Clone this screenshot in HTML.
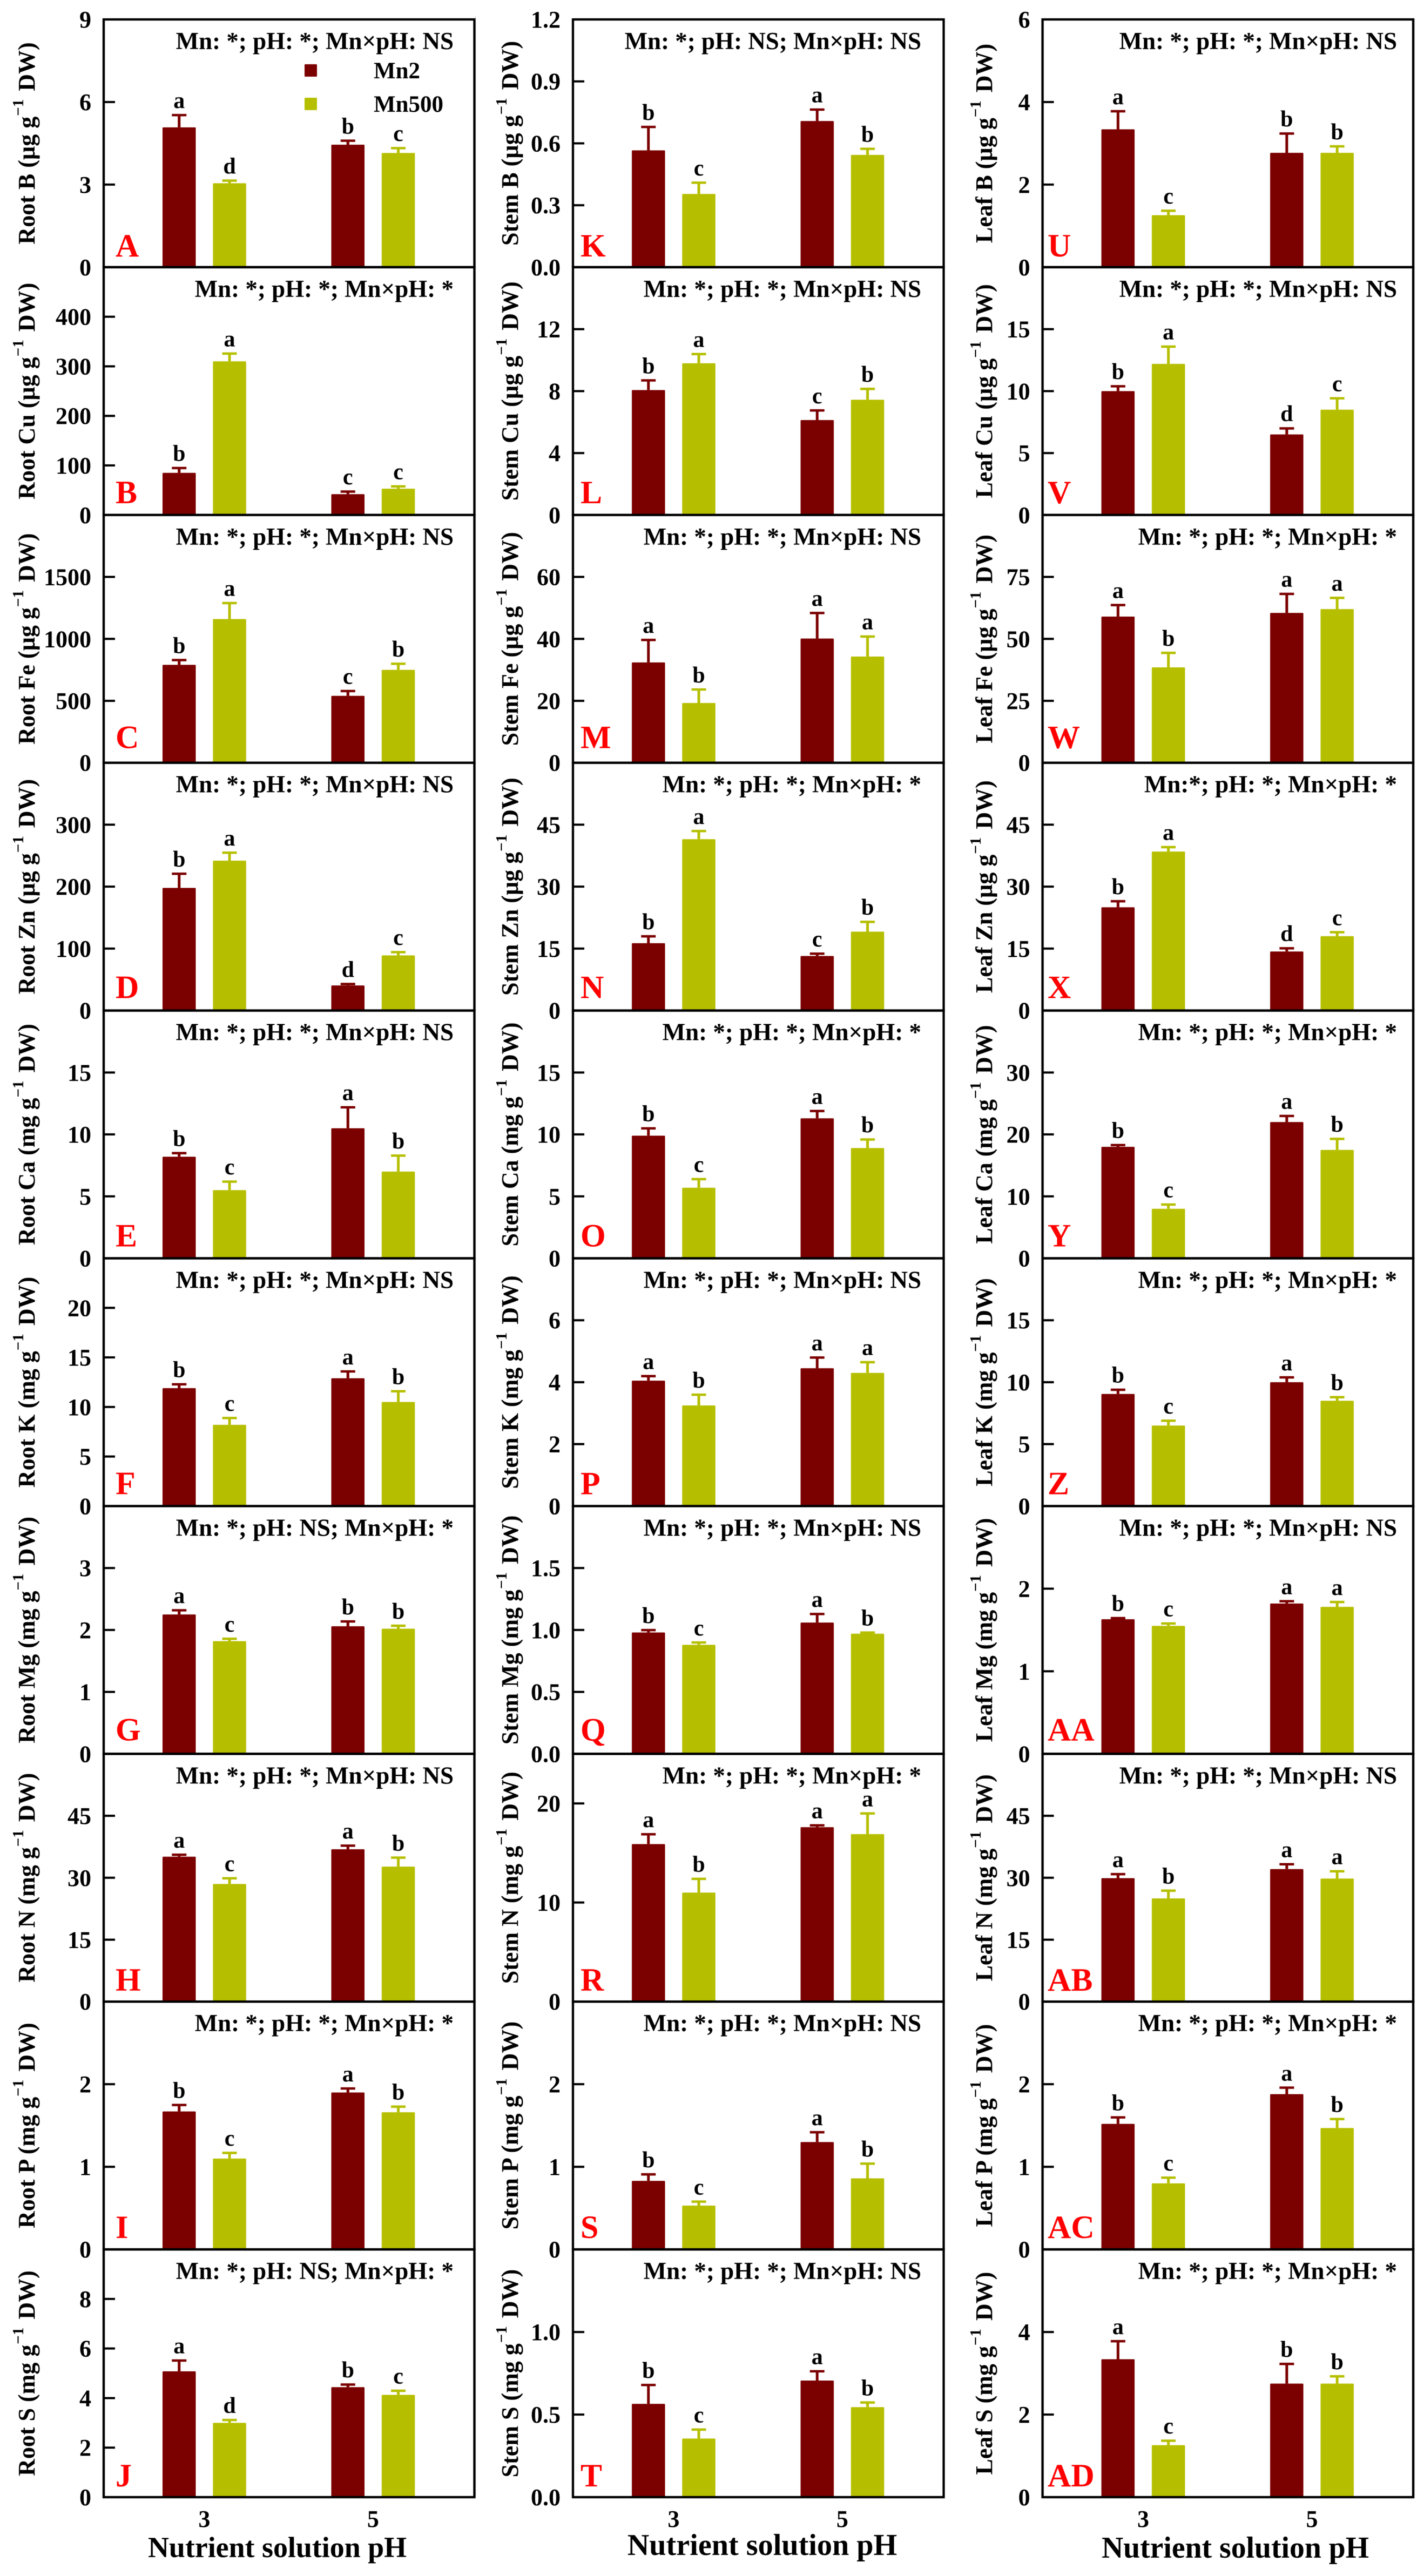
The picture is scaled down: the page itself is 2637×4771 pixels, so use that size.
<!DOCTYPE html>
<html lang="en">
<head>
<meta charset="utf-8">
<title>Nutrient concentrations in root, stem and leaf by Mn treatment and pH</title>
<style>
html,body{margin:0;padding:0;background:#fff;}
svg{display:block;filter:blur(0.9px);}
text{font-family:"Liberation Serif",serif;font-weight:bold;fill:#000;}
</style>
</head>
<body>
<svg id="figure" xmlns="http://www.w3.org/2000/svg" width="2637" height="4771" viewBox="0 0 2637 4771">
  <rect x="0" y="0" width="2637" height="4771" fill="#fff"/>
  <line x1="880.5" y1="30" x2="880.5" y2="4625" stroke="#ddd" stroke-width="1.5"/>
</svg>
<script>
const categories = ['3', '5'];
const seriesNames = ['Mn2', 'Mn500'];
const panelLetters = ['A','B','C','D','E','F','G','H','I','J','K','L','M','N','O','P','Q','R','S','T','U','V','W','X','Y','Z','AA','AB','AC','AD'];
const yTitleLeads = ['Root B','Root Cu','Root Fe','Root Zn','Root Ca','Root K','Root Mg','Root N','Root P','Root S','Stem B','Stem Cu','Stem Fe','Stem Zn','Stem Ca','Stem K','Stem Mg','Stem N','Stem P','Stem S','Leaf B','Leaf Cu','Leaf Fe','Leaf Zn','Leaf Ca','Leaf K','Leaf Mg','Leaf N','Leaf P','Leaf S'];
const yUnits = ['µg','µg','µg','µg','mg','mg','mg','mg','mg','mg','µg','µg','µg','µg','mg','mg','mg','mg','mg','mg','µg','µg','µg','µg','mg','mg','mg','mg','mg','mg'];
const yMaxima = [9,500,2000,400,20,25,4,60,3,10, 1.2,16,80,60,20,8,2,25,3,1.5, 6,20,100,60,40,20,3,60,3,6];
const yTickLabels = [
  ['0','3','6','9'],['0','100','200','300','400'],['0','500','1000','1500'],['0','100','200','300'],['0','5','10','15'],
  ['0','5','10','15','20'],['0','1','2','3'],['0','15','30','45'],['0','1','2'],['0','2','4','6','8'],
  ['0.0','0.3','0.6','0.9','1.2'],['0','4','8','12'],['0','20','40','60'],['0','15','30','45'],['0','5','10','15'],
  ['0','2','4','6'],['0.0','0.5','1.0','1.5'],['0','10','20'],['0','1','2'],['0.0','0.5','1.0'],
  ['0','2','4','6'],['0','5','10','15'],['0','25','50','75'],['0','15','30','45'],['0','10','20','30'],
  ['0','5','10','15'],['0','1','2'],['0','15','30','45'],['0','1','2'],['0','2','4']
];
const significance = [
  'Mn: *; pH: *; Mn×pH: NS','Mn: *; pH: *; Mn×pH: *','Mn: *; pH: *; Mn×pH: NS','Mn: *; pH: *; Mn×pH: NS','Mn: *; pH: *; Mn×pH: NS',
  'Mn: *; pH: *; Mn×pH: NS','Mn: *; pH: NS; Mn×pH: *','Mn: *; pH: *; Mn×pH: NS','Mn: *; pH: *; Mn×pH: *','Mn: *; pH: NS; Mn×pH: *',
  'Mn: *; pH: NS; Mn×pH: NS','Mn: *; pH: *; Mn×pH: NS','Mn: *; pH: *; Mn×pH: NS','Mn: *; pH: *; Mn×pH: *','Mn: *; pH: *; Mn×pH: *',
  'Mn: *; pH: *; Mn×pH: NS','Mn: *; pH: *; Mn×pH: NS','Mn: *; pH: *; Mn×pH: *','Mn: *; pH: *; Mn×pH: NS','Mn: *; pH: *; Mn×pH: NS',
  'Mn: *; pH: *; Mn×pH: NS','Mn: *; pH: *; Mn×pH: NS','Mn: *; pH: *; Mn×pH: *','Mn:*; pH: *; Mn×pH: *','Mn: *; pH: *; Mn×pH: *',
  'Mn: *; pH: *; Mn×pH: *','Mn: *; pH: *; Mn×pH: NS','Mn: *; pH: *; Mn×pH: NS','Mn: *; pH: *; Mn×pH: *','Mn: *; pH: *; Mn×pH: *'
];
// values per panel, one number per pH category
const mn2Means = [
  [5.08,4.45],[85,42],[790,540],[198,40.5],[8.2,10.5],[11.9,12.9],[2.25,2.06],[35.1,36.9],[1.67,1.9],[5.08,4.44],
  [0.566,0.708],[8.07,6.13],[32.4,40.1],[16.3,13.2],[9.9,11.3],[4.05,4.45],[0.98,1.06],[15.9,17.6],[0.83,1.3],[0.565,0.706],
  [3.34,2.77],[10,6.5],[59,60.5],[25,14.3],[18,22],[9.05,10],[1.63,1.82],[29.9,32.1],[1.52,1.88],[3.34,2.75]
];
const mn500Means = [
  [3.05,4.15],[310,53],[1160,750],[242,89],[5.5,7],[8.2,10.5],[1.82,2.02],[28.5,32.7],[1.1,1.66],[3,4.13],
  [0.355,0.544],[9.8,7.44],[19.3,34.3],[41.5,19.1],[5.7,8.9],[3.25,4.3],[0.88,0.97],[11,16.9],[0.53,0.86],[0.355,0.545],
  [1.26,2.77],[12.2,8.5],[38.5,62],[38.5,18],[8,17.5],[6.5,8.5],[1.55,1.78],[25,29.8],[0.8,1.47],[1.26,2.75]
];
const mn2Errors = [
  [0.45,0.15],[10,5.5],[40,40],[23,2.5],[0.3,1.7],[0.4,0.7],[0.07,0.08],[0.5,0.9],[0.08,0.05],[0.44,0.11],
  [0.114,0.056],[0.63,0.63],[7.3,8.3],[1.7,0.6],[0.6,0.6],[0.15,0.35],[0.02,0.07],[1,0.2],[0.08,0.12],[0.115,0.057],
  [0.44,0.47],[0.4,0.5],[4.7,7.7],[1.5,0.8],[0.3,1],[0.35,0.4],[0.015,0.03],[1,1.2],[0.08,0.08],[0.44,0.48]
];
const mn500Errors = [
  [0.1,0.18],[16,5],[130,50],[13,5.5],[0.7,1.3],[0.7,1.1],[0.04,0.05],[1.4,2.2],[0.07,0.07],[0.12,0.17],
  [0.055,0.03],[0.6,0.71],[4.4,6.5],[2,2.4],[0.7,0.7],[0.35,0.35],[0.02,0.01],[1.4,2.1],[0.05,0.18],[0.055,0.029],
  [0.11,0.16],[1.4,0.93],[5.9,4.6],[1.1,1],[0.7,1.8],[0.4,0.3],[0.03,0.06],[1.9,1.8],[0.07,0.11],[0.11,0.18]
];
const mn2Letters = [
  ['a','b'],['b','c'],['b','c'],['b','d'],['b','a'],['b','a'],['a','b'],['a','a'],['b','a'],['a','b'],
  ['b','a'],['b','c'],['a','a'],['b','c'],['b','a'],['a','a'],['b','a'],['a','a'],['b','a'],['b','a'],
  ['a','b'],['b','d'],['a','a'],['b','d'],['b','a'],['b','a'],['b','a'],['a','a'],['b','a'],['a','b']
];
const mn500Letters = [
  ['d','c'],['a','c'],['a','b'],['a','c'],['c','b'],['c','b'],['c','b'],['c','b'],['c','b'],['d','c'],
  ['c','b'],['a','b'],['b','a'],['a','b'],['c','b'],['b','a'],['c','b'],['b','a'],['c','b'],['c','b'],
  ['c','b'],['a','c'],['b','a'],['a','c'],['c','b'],['c','b'],['c','a'],['b','a'],['c','b'],['c','b']
];
const xAxisTitle = 'Nutrient solution pH';

const NS = 'http://www.w3.org/2000/svg';
const svg = document.getElementById('figure');
const ROWS = 10, TOP = 36, ROW_H = 458.9, PLOT_W = 686.5, BAR_W = 61.5;
const colLeft = [192, 1061, 1930.6];
const colTitleX = [64, 959, 1837];
const colSigRight = [840, 1706, 2587];
const colLetterX = [214, 1075, 1940];
const colXTitleX = [513.5, 1411.5, 2287.5];
const colXTitleY = [4736, 4732, 4737];
const colXTitleSize = [53.9, 56.2, 55.7];
const rowLetterLift = [20, 22, 27, 23, 22, 22, 24.6, 20, 21, 20];
const seriesColors = ['#7b0000', '#b5bf00'];

function make(tag, parent) {
  const el = document.createElementNS(NS, tag);
  (parent || svg).appendChild(el);
  return el;
}
function setAll(el, attrs) {
  for (const k in attrs) el.setAttribute(k, attrs[k]);
  return el;
}
function xBar(col, catIdx, serIdx) {
  return colLeft[col] + 109 + catIdx * 312.5 + serIdx * 93.3;
}
function rowTop(row) { return TOP + row * ROW_H; }
function yScale(row, maxV, v) { return rowTop(row) + ROW_H - (v / maxV) * ROW_H; }

panelLetters.forEach(function (letter, p) {
  const col = Math.floor(p / ROWS), row = p % ROWS;
  const left = colLeft[col], top = rowTop(row), maxV = yMaxima[p];
  const key = letter.toLowerCase();

  const g = make('g');
  
  

  // bars and error bars
  [mn2Means, mn500Means].forEach(function (means, s) {
    const errs = s === 0 ? mn2Errors : mn500Errors;
    const lets = s === 0 ? mn2Letters : mn500Letters;
    categories.forEach(function (cat, c) {
      const x = xBar(col, c, s), cx = x + BAR_W / 2;
      const yV = yScale(row, maxV, means[p][c]);
      const yE = yScale(row, maxV, means[p][c] + errs[p][c]);
      const color = seriesColors[s];

      const stem = make('rect', g);
      
      
      setAll(stem, {x: cx - 2.5, y: yE, width: 5, height: Math.max(yV - yE, 0), fill: color});

      const cap = make('rect', g);
      
      
      setAll(cap, {x: cx - 13.5, y: yE - 2, width: 27, height: 4.5, fill: color});

      const bar = make('rect', g);
      
      
      setAll(bar, {x: x, y: yV, width: BAR_W, height: top + ROW_H - yV, fill: color, rx: 1.5});

      const lt = make('text', g);
      
      
      setAll(lt, {x: cx, y: yE - 13, 'text-anchor': 'middle', 'font-size': 42});
      lt.textContent = lets[p][c];
    });
  });

  // frame
  const frame = make('rect', g);
  
  
  setAll(frame, {x: left, y: top, width: PLOT_W, height: ROW_H, fill: 'none', stroke: '#000', 'stroke-width': 4.3});

  // y ticks + labels
  yTickLabels[p].forEach(function (label) {
    const y = yScale(row, maxV, parseFloat(label));
    if (parseFloat(label) > 0 && parseFloat(label) < maxV) {
      const tick = make('line', g);
      
      
      setAll(tick, {x1: left, x2: left + 21, y1: y, y2: y, stroke: '#000', 'stroke-width': 4});
    }
    const t = make('text', g);
    
    
    setAll(t, {x: left - 23, y: y + 15, 'text-anchor': 'end', 'font-size': 44});
    t.textContent = label;
  });

  // y title
  const cy = top + ROW_H / 2, tx = colTitleX[col];
  const yt = make('text', g);
  
  
  setAll(yt, {x: tx, y: cy, 'text-anchor': 'middle', 'font-size': 44, transform: 'rotate(-90 ' + tx + ' ' + cy + ')'});
  const t1 = make('tspan', yt);
  t1.textContent = yTitleLeads[p] + ' (' + yUnits[p] + ' g';
  const t2 = make('tspan', yt);
  setAll(t2, {dy: -21, 'font-size': 29, dx: 1});
  t2.textContent = '−1';
  const t3 = make('tspan', yt);
  setAll(t3, {dy: 21, dx: 15});
  t3.textContent = 'DW)';

  // significance summary
  const sig = make('text', g);
  
  
  setAll(sig, {x: colSigRight[col], y: top + 55, 'text-anchor': 'end', 'font-size': 45});
  sig.textContent = significance[p];

  // panel letter
  const pl = make('text', g);
  
  
  setAll(pl, {x: colLetterX[col], y: top + ROW_H - rowLetterLift[row], 'font-size': 60});
  pl.style.fill = '#f00';
  pl.textContent = letter;
});

// x axis labels per column
colLeft.forEach(function (left, col) {
  categories.forEach(function (cat, c) {
    const x = (xBar(col, c, 0) + xBar(col, c, 1) + BAR_W) / 2;
    const t = make('text');
    
    
    setAll(t, {x: x, y: 4680, 'text-anchor': 'middle', 'font-size': 44});
    t.textContent = cat;
  });
  const xt = make('text');
  
  
  setAll(xt, {x: colXTitleX[col], y: colXTitleY[col], 'text-anchor': 'middle', 'font-size': colXTitleSize[col]});
  xt.textContent = xAxisTitle;
});

// legend in panel A
seriesNames.forEach(function (name, s) {
  const y = 119 + s * 62;
  const sw = make('rect');
  
  
  setAll(sw, {x: 564, y: y, width: 23, height: 23, rx: 1.5, fill: seriesColors[s]});
  const t = make('text');
  
  
  setAll(t, {x: 692, y: y + 26, 'font-size': 43});
  t.textContent = name;
});
</script>
</body>
</html>
